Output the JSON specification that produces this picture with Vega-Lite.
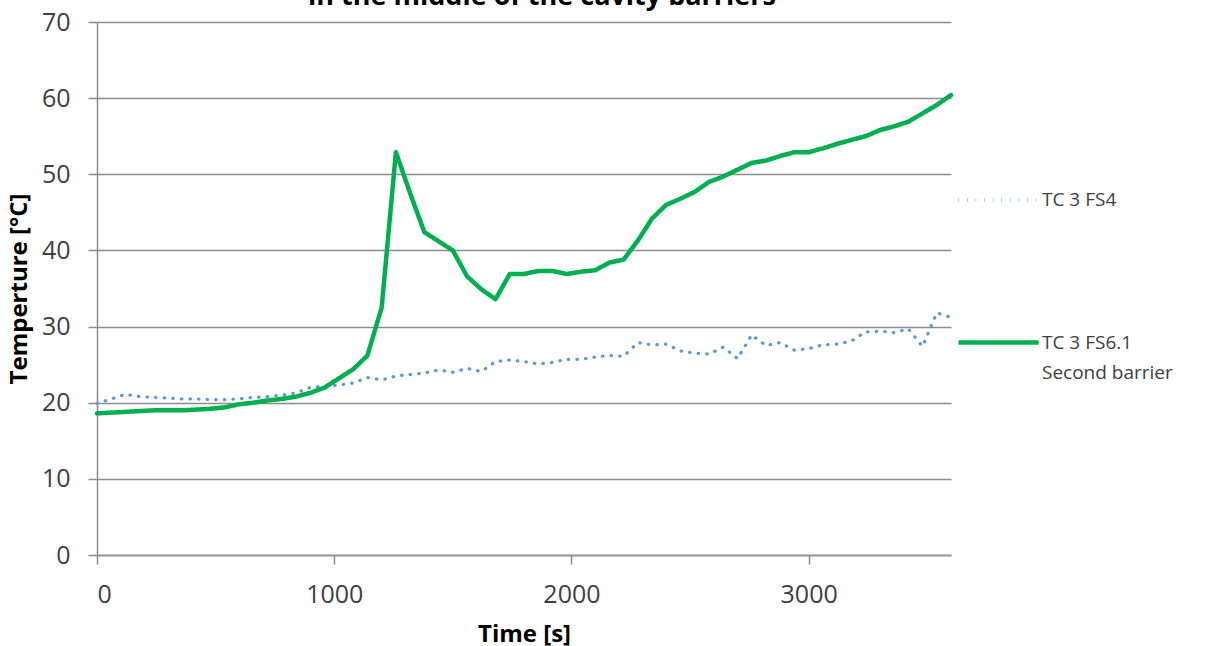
{
  "$schema": "https://vega.github.io/schema/vega-lite/v6.json",
  "autosize": "none",
  "width": 854,
  "height": 533,
  "padding": {"left": 97, "top": 22, "right": 254, "bottom": 91},
  "background": "white",
  "title": {
    "text": "in the middle of the cavity barriers",
    "font": "Open Sans",
    "fontSize": 27,
    "fontWeight": "bold",
    "color": "#000000",
    "anchor": "middle",
    "dx": 18,
    "dy": 22,
    "baseline": "alphabetic",
    "offset": 0
  },
  "config": {
    "view": {"stroke": null},
    "axis": {
      "labelFont": "Open Sans",
      "labelFontSize": 25,
      "labelColor": "#404040",
      "titleFont": "Open Sans",
      "titleFontSize": 24,
      "titleFontWeight": "bold",
      "titleColor": "#000000",
      "domainColor": "#8c8c8c",
      "domainWidth": 1.5,
      "tickColor": "#8c8c8c",
      "tickWidth": 1.5,
      "tickSize": 9,
      "gridColor": "#8c8c8c",
      "gridWidth": 1.3
    }
  },
  "data": {
    "values": [
      {"t": 0, "s": "TC 3 FS4", "v": 19.9},
      {"t": 60, "s": "TC 3 FS4", "v": 20.5},
      {"t": 120, "s": "TC 3 FS4", "v": 21.1},
      {"t": 180, "s": "TC 3 FS4", "v": 20.8},
      {"t": 240, "s": "TC 3 FS4", "v": 20.7},
      {"t": 300, "s": "TC 3 FS4", "v": 20.6},
      {"t": 360, "s": "TC 3 FS4", "v": 20.5},
      {"t": 420, "s": "TC 3 FS4", "v": 20.5},
      {"t": 480, "s": "TC 3 FS4", "v": 20.4},
      {"t": 540, "s": "TC 3 FS4", "v": 20.4},
      {"t": 600, "s": "TC 3 FS4", "v": 20.5},
      {"t": 660, "s": "TC 3 FS4", "v": 20.7},
      {"t": 720, "s": "TC 3 FS4", "v": 20.8},
      {"t": 780, "s": "TC 3 FS4", "v": 21.0},
      {"t": 840, "s": "TC 3 FS4", "v": 21.3},
      {"t": 900, "s": "TC 3 FS4", "v": 22.0},
      {"t": 960, "s": "TC 3 FS4", "v": 22.2},
      {"t": 1020, "s": "TC 3 FS4", "v": 22.3},
      {"t": 1080, "s": "TC 3 FS4", "v": 22.6},
      {"t": 1140, "s": "TC 3 FS4", "v": 23.3},
      {"t": 1200, "s": "TC 3 FS4", "v": 23.0},
      {"t": 1260, "s": "TC 3 FS4", "v": 23.5},
      {"t": 1320, "s": "TC 3 FS4", "v": 23.7},
      {"t": 1380, "s": "TC 3 FS4", "v": 23.9},
      {"t": 1440, "s": "TC 3 FS4", "v": 24.3},
      {"t": 1500, "s": "TC 3 FS4", "v": 24.0},
      {"t": 1560, "s": "TC 3 FS4", "v": 24.5},
      {"t": 1620, "s": "TC 3 FS4", "v": 24.1},
      {"t": 1680, "s": "TC 3 FS4", "v": 25.4},
      {"t": 1740, "s": "TC 3 FS4", "v": 25.6},
      {"t": 1800, "s": "TC 3 FS4", "v": 25.4},
      {"t": 1860, "s": "TC 3 FS4", "v": 25.1},
      {"t": 1920, "s": "TC 3 FS4", "v": 25.3},
      {"t": 1980, "s": "TC 3 FS4", "v": 25.7},
      {"t": 2040, "s": "TC 3 FS4", "v": 25.7},
      {"t": 2100, "s": "TC 3 FS4", "v": 26.0},
      {"t": 2160, "s": "TC 3 FS4", "v": 26.2},
      {"t": 2220, "s": "TC 3 FS4", "v": 26.1},
      {"t": 2280, "s": "TC 3 FS4", "v": 27.9},
      {"t": 2340, "s": "TC 3 FS4", "v": 27.6},
      {"t": 2400, "s": "TC 3 FS4", "v": 27.7},
      {"t": 2460, "s": "TC 3 FS4", "v": 26.8},
      {"t": 2520, "s": "TC 3 FS4", "v": 26.5},
      {"t": 2580, "s": "TC 3 FS4", "v": 26.4},
      {"t": 2640, "s": "TC 3 FS4", "v": 27.3},
      {"t": 2700, "s": "TC 3 FS4", "v": 25.8},
      {"t": 2760, "s": "TC 3 FS4", "v": 28.9},
      {"t": 2820, "s": "TC 3 FS4", "v": 27.5},
      {"t": 2880, "s": "TC 3 FS4", "v": 27.9},
      {"t": 2940, "s": "TC 3 FS4", "v": 26.9},
      {"t": 3000, "s": "TC 3 FS4", "v": 27.1},
      {"t": 3060, "s": "TC 3 FS4", "v": 27.6},
      {"t": 3120, "s": "TC 3 FS4", "v": 27.7},
      {"t": 3180, "s": "TC 3 FS4", "v": 28.1},
      {"t": 3240, "s": "TC 3 FS4", "v": 29.3},
      {"t": 3300, "s": "TC 3 FS4", "v": 29.4},
      {"t": 3360, "s": "TC 3 FS4", "v": 29.2},
      {"t": 3420, "s": "TC 3 FS4", "v": 29.7},
      {"t": 3480, "s": "TC 3 FS4", "v": 27.4},
      {"t": 3540, "s": "TC 3 FS4", "v": 31.8},
      {"t": 3600, "s": "TC 3 FS4", "v": 31.2},
      {"t": 0, "s": "TC 3 FS6.1 Second barrier", "v": 18.6},
      {"t": 60, "s": "TC 3 FS6.1 Second barrier", "v": 18.7},
      {"t": 120, "s": "TC 3 FS6.1 Second barrier", "v": 18.8},
      {"t": 180, "s": "TC 3 FS6.1 Second barrier", "v": 18.9},
      {"t": 240, "s": "TC 3 FS6.1 Second barrier", "v": 19.0},
      {"t": 300, "s": "TC 3 FS6.1 Second barrier", "v": 19.0},
      {"t": 360, "s": "TC 3 FS6.1 Second barrier", "v": 19.0},
      {"t": 420, "s": "TC 3 FS6.1 Second barrier", "v": 19.1},
      {"t": 480, "s": "TC 3 FS6.1 Second barrier", "v": 19.2},
      {"t": 540, "s": "TC 3 FS6.1 Second barrier", "v": 19.4},
      {"t": 600, "s": "TC 3 FS6.1 Second barrier", "v": 19.8},
      {"t": 660, "s": "TC 3 FS6.1 Second barrier", "v": 20.0},
      {"t": 720, "s": "TC 3 FS6.1 Second barrier", "v": 20.3},
      {"t": 780, "s": "TC 3 FS6.1 Second barrier", "v": 20.5},
      {"t": 840, "s": "TC 3 FS6.1 Second barrier", "v": 20.8},
      {"t": 900, "s": "TC 3 FS6.1 Second barrier", "v": 21.3},
      {"t": 960, "s": "TC 3 FS6.1 Second barrier", "v": 22.0},
      {"t": 1020, "s": "TC 3 FS6.1 Second barrier", "v": 23.2},
      {"t": 1080, "s": "TC 3 FS6.1 Second barrier", "v": 24.4},
      {"t": 1140, "s": "TC 3 FS6.1 Second barrier", "v": 26.2},
      {"t": 1200, "s": "TC 3 FS6.1 Second barrier", "v": 32.5},
      {"t": 1260, "s": "TC 3 FS6.1 Second barrier", "v": 52.9},
      {"t": 1320, "s": "TC 3 FS6.1 Second barrier", "v": 47.5},
      {"t": 1380, "s": "TC 3 FS6.1 Second barrier", "v": 42.4},
      {"t": 1440, "s": "TC 3 FS6.1 Second barrier", "v": 41.2},
      {"t": 1500, "s": "TC 3 FS6.1 Second barrier", "v": 40.0},
      {"t": 1560, "s": "TC 3 FS6.1 Second barrier", "v": 36.6},
      {"t": 1620, "s": "TC 3 FS6.1 Second barrier", "v": 34.9},
      {"t": 1680, "s": "TC 3 FS6.1 Second barrier", "v": 33.6},
      {"t": 1740, "s": "TC 3 FS6.1 Second barrier", "v": 36.9},
      {"t": 1800, "s": "TC 3 FS6.1 Second barrier", "v": 36.9},
      {"t": 1860, "s": "TC 3 FS6.1 Second barrier", "v": 37.3},
      {"t": 1920, "s": "TC 3 FS6.1 Second barrier", "v": 37.3},
      {"t": 1980, "s": "TC 3 FS6.1 Second barrier", "v": 36.9},
      {"t": 2040, "s": "TC 3 FS6.1 Second barrier", "v": 37.2},
      {"t": 2100, "s": "TC 3 FS6.1 Second barrier", "v": 37.4},
      {"t": 2160, "s": "TC 3 FS6.1 Second barrier", "v": 38.4},
      {"t": 2220, "s": "TC 3 FS6.1 Second barrier", "v": 38.8},
      {"t": 2280, "s": "TC 3 FS6.1 Second barrier", "v": 41.3},
      {"t": 2340, "s": "TC 3 FS6.1 Second barrier", "v": 44.2},
      {"t": 2400, "s": "TC 3 FS6.1 Second barrier", "v": 46.0},
      {"t": 2460, "s": "TC 3 FS6.1 Second barrier", "v": 46.8},
      {"t": 2520, "s": "TC 3 FS6.1 Second barrier", "v": 47.7},
      {"t": 2580, "s": "TC 3 FS6.1 Second barrier", "v": 49.0},
      {"t": 2640, "s": "TC 3 FS6.1 Second barrier", "v": 49.7},
      {"t": 2700, "s": "TC 3 FS6.1 Second barrier", "v": 50.6},
      {"t": 2760, "s": "TC 3 FS6.1 Second barrier", "v": 51.5},
      {"t": 2820, "s": "TC 3 FS6.1 Second barrier", "v": 51.8},
      {"t": 2880, "s": "TC 3 FS6.1 Second barrier", "v": 52.4},
      {"t": 2940, "s": "TC 3 FS6.1 Second barrier", "v": 52.9},
      {"t": 3000, "s": "TC 3 FS6.1 Second barrier", "v": 52.9},
      {"t": 3060, "s": "TC 3 FS6.1 Second barrier", "v": 53.4},
      {"t": 3120, "s": "TC 3 FS6.1 Second barrier", "v": 54.0},
      {"t": 3180, "s": "TC 3 FS6.1 Second barrier", "v": 54.5},
      {"t": 3240, "s": "TC 3 FS6.1 Second barrier", "v": 55.0},
      {"t": 3300, "s": "TC 3 FS6.1 Second barrier", "v": 55.8},
      {"t": 3360, "s": "TC 3 FS6.1 Second barrier", "v": 56.3},
      {"t": 3420, "s": "TC 3 FS6.1 Second barrier", "v": 56.9},
      {"t": 3480, "s": "TC 3 FS6.1 Second barrier", "v": 58.0},
      {"t": 3540, "s": "TC 3 FS6.1 Second barrier", "v": 59.1},
      {"t": 3600, "s": "TC 3 FS6.1 Second barrier", "v": 60.4}
    ]
  },
  "mark": {"type": "line", "strokeCap": "round", "strokeJoin": "round"},
  "encoding": {
    "x": {
      "field": "t",
      "type": "quantitative",
      "title": "Time [s]",
      "scale": {"domain": [0, 3600], "nice": false},
      "axis": {
        "values": [0, 1000, 2000, 3000],
        "format": "d",
        "grid": false,
        "labelPadding": 18,
        "titlePadding": 15
      }
    },
    "y": {
      "field": "v",
      "type": "quantitative",
      "title": "Temperture [°C]",
      "scale": {"domain": [0, 70], "nice": false},
      "axis": {
        "values": [0, 10, 20, 30, 40, 50, 60, 70],
        "labelPadding": 18,
        "titlePadding": 10
      }
    },
    "color": {
      "field": "s",
      "type": "nominal",
      "scale": {
        "domain": ["TC 3 FS4", "TC 3 FS6.1 Second barrier"],
        "range": ["#5B9BD5", "#00B050"]
      },
      "legend": {
        "title": null,
        "orient": "none",
        "legendX": 859,
        "legendY": 136,
        "symbolType": "stroke",
        "symbolSize": 6400,
        "labelFont": "Open Sans",
        "labelFontSize": 19,
        "labelColor": "#404040",
        "labelLimit": 300,
        "labelOffset": 1,
        "rowPadding": 90,
        "labelBaseline": "alphabetic",
        "labelExpr": "datum.label == 'TC 3 FS6.1 Second barrier' ? ['TC 3 FS6.1', 'Second barrier'] : datum.label",
        "encode": {
          "labels": {"update": {"dy": {"value": 6}, "lineHeight": {"value": 30}}}
        }
      }
    },
    "strokeDash": {
      "field": "s",
      "type": "nominal",
      "scale": {
        "domain": ["TC 3 FS4", "TC 3 FS6.1 Second barrier"],
        "range": [[0.5, 8.1], [1, 0]]
      }
    },
    "strokeWidth": {
      "field": "s",
      "type": "nominal",
      "scale": {
        "domain": ["TC 3 FS4", "TC 3 FS6.1 Second barrier"],
        "range": [3.2, 4.5]
      }
    }
  }
}
